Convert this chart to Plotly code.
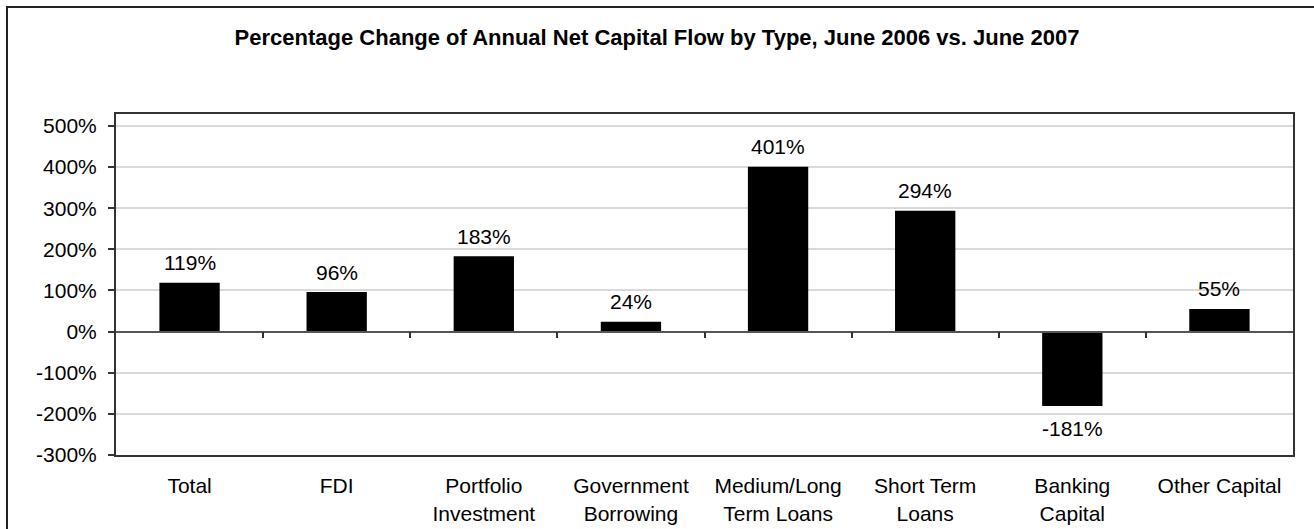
import plotly.graph_objects as go

categories = ["Total", "FDI", "Portfolio<br>Investment", "Government<br>Borrowing",
              "Medium/Long<br>Term Loans", "Short Term<br>Loans", "Banking<br>Capital", "Other Capital"]
values = [119, 96, 183, 24, 401, 294, -181, 55]
y_ticks = [-300, -200, -100, 0, 100, 200, 300, 400, 500]
y_range = [-300, 529]

W, H = 1314, 529
ML, MR, MT, MB = 116, 21, 114, 74
FONT = "Liberation Sans, Arial, sans-serif"

xs = list(range(len(categories)))

fig = go.Figure()
fig.add_trace(go.Bar(x=xs, y=values, width=0.41, marker=dict(color="black", line=dict(width=0)),
                     showlegend=False, hoverinfo="skip"))
# invisible trace for the zero axis
fig.add_trace(go.Scatter(x=[-0.5, len(categories) - 0.5], y=[0, 0], xaxis="x2", mode="lines",
                         line=dict(width=0), showlegend=False, hoverinfo="skip"))

for xi, v in zip(xs, values):
    fig.add_annotation(x=xi, y=v, text=f"{v}%", showarrow=False,
                       yanchor="middle", yshift=20 if v >= 0 else -22,
                       font=dict(family=FONT, size=21, color="black"))

zero_pos = (0 - y_range[0]) / (y_range[1] - y_range[0])

pw = W - ML - MR
ph = H - MT - MB
bx0 = (7 - ML) / pw
bx1 = (W + 10 - ML) / pw
by1 = 1 + (MT - 7) / ph
by0 = -(H + 10 - (H - MB)) / ph
fig.add_shape(type="rect", xref="paper", yref="paper", x0=bx0, x1=bx1, y0=by0, y1=by1,
              line=dict(color="#222", width=2), layer="below")

fig.update_layout(
    width=W, height=H,
    margin=dict(l=ML, r=MR, t=MT, b=MB, autoexpand=False),
    paper_bgcolor="white", plot_bgcolor="white",
    font=dict(family=FONT, size=21, color="black"),
    title=dict(text="<b>Percentage Change of Annual Net Capital Flow by Type, June 2006 vs. June 2007</b>",
               x=0.5, xanchor="center", y=1 - 37 / H, yanchor="middle",
               font=dict(family=FONT, size=22, color="black")),
    xaxis=dict(range=[-0.5, len(categories) - 0.5], tickvals=xs, ticktext=categories,
               ticks="", showgrid=False, zeroline=False, showline=True, mirror=True,
               linecolor="#333", linewidth=2, ticklabelstandoff=11, automargin=False,
               tickfont=dict(family=FONT, size=21, color="black")),
    xaxis2=dict(range=[-0.5, len(categories) - 0.5], overlaying="x", anchor="free", position=zero_pos,
                side="bottom", showline=True, linecolor="#555", linewidth=1.5,
                tickvals=[i + 0.5 for i in range(len(categories) - 1)], ticks="outside",
                ticklen=6, tickcolor="#333", tickwidth=1.5, showticklabels=False, showgrid=False,
                zeroline=False, automargin=False),
    yaxis=dict(range=y_range, tickvals=y_ticks, ticktext=[f"{t}%" for t in y_ticks],
               ticks="outside", ticklen=6, tickcolor="#333", tickwidth=1.5,
               showgrid=True, gridcolor="#d9d9d9", gridwidth=1.5, zeroline=False,
               showline=True, mirror=True, linecolor="#333", linewidth=2, automargin=False,
               ticklabelstandoff=7, tickfont=dict(family=FONT, size=21, color="black")),
    bargap=0.59,
)

fig.write_html("out.html", config={"displayModeBar": False},
               post_script="document.body.style.margin='0';document.body.style.overflow='hidden';")
